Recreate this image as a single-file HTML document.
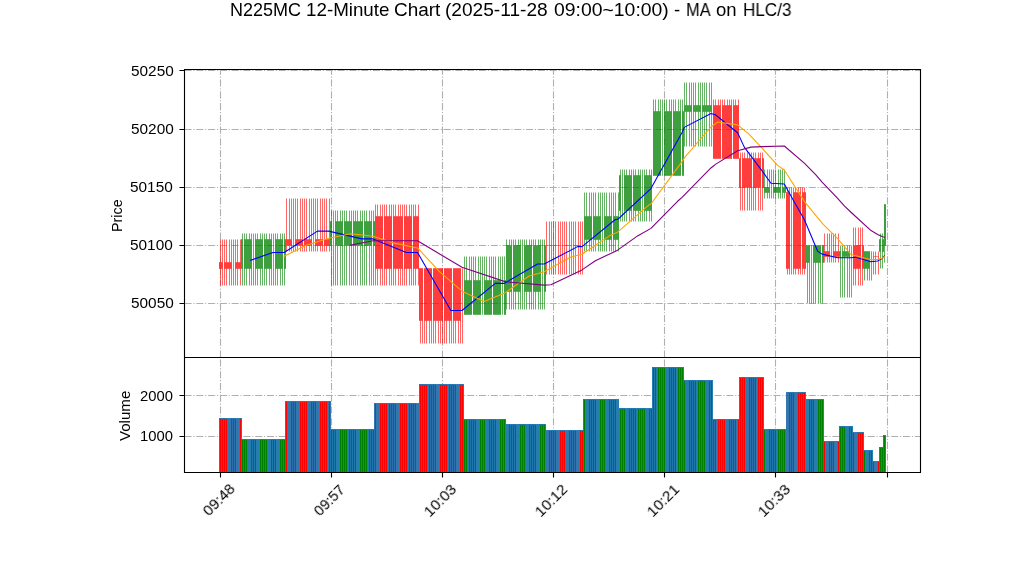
<!DOCTYPE html>
<html><head><meta charset="utf-8"><title>N225MC 12-Minute Chart</title>
<style>
html,body{margin:0;padding:0;background:#fff}
#fig{position:relative;width:1022px;height:575px;overflow:hidden;background:#fff;font-family:"Liberation Sans",sans-serif;color:#000}
.t{position:absolute;white-space:nowrap;line-height:1;transform-origin:0 0;will-change:transform}
</style></head><body>
<div id="fig">
<svg width="1022" height="575" viewBox="0 0 1022 575" style="position:absolute;left:0;top:0">
<defs><clipPath id="c1"><rect x="184" y="69" width="736" height="288"/></clipPath><clipPath id="c2"><rect x="184" y="357" width="736" height="115"/></clipPath></defs>
<rect width="1022" height="575" fill="#fff"/>
<path clip-path="url(#c1)" d="M184.5 303.5H920.5M184.5 245.5H920.5M184.5 187.5H920.5M184.5 129.5H920.5M184.5 70.5H920.5M220.5 357.5V69.5M331.5 357.5V69.5M442.5 357.5V69.5M553.5 357.5V69.5M664.5 357.5V69.5M775.5 357.5V69.5M887.5 357.5V69.5" fill="none" stroke="#b0b0b0" stroke-width="1.111" stroke-dasharray="7.111 1.778 1.111 1.778"/>
<path clip-path="url(#c2)" d="M184.5 436.5H920.5M184.5 395.5H920.5M220.5 472.5V357.5M331.5 472.5V357.5M442.5 472.5V357.5M553.5 472.5V357.5M664.5 472.5V357.5M775.5 472.5V357.5M887.5 472.5V357.5" fill="none" stroke="#b0b0b0" stroke-width="1.111" stroke-dasharray="7.111 1.778 1.111 1.778"/>
<g clip-path="url(#c1)" fill="none" stroke-width=".604">
<path d="M220.5 285.5V268.5M220.5 239.5V262.5M222.5 285.5V268.5M222.5 239.5V262.5M224.5 285.5V268.5M224.5 239.5V262.5M226.5 285.5V268.5M226.5 239.5V262.5M229.5 285.5V268.5M229.5 239.5V262.5M231.5 285.5V268.5M231.5 239.5V262.5M233.5 285.5V268.5M233.5 239.5V262.5M235.5 285.5V268.5M235.5 239.5V262.5M237.5 285.5V268.5M237.5 239.5V262.5M240.5 285.5V268.5M240.5 239.5V262.5M286.5 251.5V245.5M286.5 198.5V239.5M289.5 251.5V245.5M289.5 198.5V239.5M291.5 251.5V245.5M291.5 198.5V239.5M293.5 251.5V245.5M293.5 198.5V239.5M295.5 251.5V245.5M295.5 198.5V239.5M297.5 251.5V245.5M297.5 198.5V239.5M300.5 251.5V245.5M300.5 198.5V239.5M302.5 251.5V245.5M302.5 198.5V239.5M304.5 251.5V245.5M304.5 198.5V239.5M306.5 251.5V245.5M306.5 198.5V239.5M309.5 251.5V245.5M309.5 198.5V239.5M311.5 251.5V245.5M311.5 198.5V239.5M313.5 251.5V245.5M313.5 198.5V239.5M315.5 251.5V245.5M315.5 198.5V239.5M317.5 251.5V245.5M317.5 198.5V239.5M320.5 251.5V245.5M320.5 198.5V239.5M322.5 251.5V245.5M322.5 198.5V239.5M324.5 251.5V245.5M324.5 198.5V239.5M326.5 251.5V245.5M326.5 198.5V239.5M329.5 251.5V245.5M329.5 198.5V239.5M375.5 285.5V268.5M375.5 204.5V216.5M377.5 285.5V268.5M377.5 204.5V216.5M380.5 285.5V268.5M380.5 204.5V216.5M382.5 285.5V268.5M382.5 204.5V216.5M384.5 285.5V268.5M384.5 204.5V216.5M386.5 285.5V268.5M386.5 204.5V216.5M389.5 285.5V268.5M389.5 204.5V216.5M391.5 285.5V268.5M391.5 204.5V216.5M393.5 285.5V268.5M393.5 204.5V216.5M395.5 285.5V268.5M395.5 204.5V216.5M398.5 285.5V268.5M398.5 204.5V216.5M400.5 285.5V268.5M400.5 204.5V216.5M402.5 285.5V268.5M402.5 204.5V216.5M404.5 285.5V268.5M404.5 204.5V216.5M406.5 285.5V268.5M406.5 204.5V216.5M409.5 285.5V268.5M409.5 204.5V216.5M411.5 285.5V268.5M411.5 204.5V216.5M413.5 285.5V268.5M413.5 204.5V216.5M415.5 285.5V268.5M415.5 204.5V216.5M418.5 285.5V268.5M418.5 204.5V216.5M420.5 343.5V320.5M422.5 343.5V320.5M424.5 343.5V320.5M426.5 343.5V320.5M429.5 343.5V320.5M431.5 343.5V320.5M433.5 343.5V320.5M435.5 343.5V320.5M438.5 343.5V320.5M440.5 343.5V320.5M442.5 343.5V320.5M444.5 343.5V320.5M446.5 343.5V320.5M449.5 343.5V320.5M451.5 343.5V320.5M453.5 343.5V320.5M455.5 343.5V320.5M458.5 343.5V320.5M460.5 343.5V320.5M462.5 343.5V320.5M546.5 274.5V245.5M546.5 221.5V245.5M549.5 274.5V245.5M549.5 221.5V245.5M551.5 274.5V245.5M551.5 221.5V245.5M553.5 274.5V245.5M553.5 221.5V245.5M555.5 274.5V245.5M555.5 221.5V245.5M558.5 274.5V245.5M558.5 221.5V245.5M560.5 274.5V245.5M560.5 221.5V245.5M562.5 274.5V245.5M562.5 221.5V245.5M564.5 274.5V245.5M564.5 221.5V245.5M566.5 274.5V245.5M566.5 221.5V245.5M569.5 274.5V245.5M569.5 221.5V245.5M571.5 274.5V245.5M571.5 221.5V245.5M573.5 274.5V245.5M573.5 221.5V245.5M575.5 274.5V245.5M575.5 221.5V245.5M578.5 274.5V245.5M578.5 221.5V245.5M580.5 274.5V245.5M580.5 221.5V245.5M582.5 274.5V245.5M582.5 221.5V245.5M713.5 99.5V105.5M715.5 99.5V105.5M718.5 99.5V105.5M720.5 99.5V105.5M722.5 99.5V105.5M724.5 99.5V105.5M727.5 99.5V105.5M729.5 99.5V105.5M731.5 99.5V105.5M733.5 99.5V105.5M735.5 99.5V105.5M738.5 99.5V105.5M740.5 210.5V187.5M740.5 152.5V158.5M742.5 210.5V187.5M742.5 152.5V158.5M744.5 210.5V187.5M744.5 152.5V158.5M747.5 210.5V187.5M747.5 152.5V158.5M749.5 210.5V187.5M749.5 152.5V158.5M751.5 210.5V187.5M751.5 152.5V158.5M753.5 210.5V187.5M753.5 152.5V158.5M755.5 210.5V187.5M755.5 152.5V158.5M758.5 210.5V187.5M758.5 152.5V158.5M760.5 210.5V187.5M760.5 152.5V158.5M762.5 210.5V187.5M762.5 152.5V158.5M787.5 274.5V268.5M787.5 187.5V192.5M789.5 274.5V268.5M789.5 187.5V192.5M791.5 274.5V268.5M791.5 187.5V192.5M793.5 274.5V268.5M793.5 187.5V192.5M795.5 274.5V268.5M795.5 187.5V192.5M798.5 274.5V268.5M798.5 187.5V192.5M800.5 274.5V268.5M800.5 187.5V192.5M802.5 274.5V268.5M802.5 187.5V192.5M804.5 274.5V268.5M804.5 187.5V192.5M824.5 262.5V256.5M824.5 233.5V251.5M827.5 262.5V256.5M827.5 233.5V251.5M829.5 262.5V256.5M829.5 233.5V251.5M831.5 262.5V256.5M831.5 233.5V251.5M833.5 262.5V256.5M833.5 233.5V251.5M835.5 262.5V256.5M835.5 233.5V251.5M838.5 262.5V256.5M838.5 233.5V251.5M853.5 285.5V268.5M853.5 227.5V245.5M855.5 285.5V268.5M855.5 227.5V245.5M858.5 285.5V268.5M858.5 227.5V245.5M860.5 285.5V268.5M860.5 227.5V245.5M862.5 285.5V268.5M862.5 227.5V245.5M873.5 274.5V256.5M873.5 251.5V256.5M875.5 274.5V256.5M875.5 251.5V256.5M878.5 274.5V256.5M878.5 251.5V256.5" stroke="#ff0000"/>
<path d="M242.5 285.5V268.5M242.5 233.5V239.5M244.5 285.5V268.5M244.5 233.5V239.5M246.5 285.5V268.5M246.5 233.5V239.5M249.5 285.5V268.5M249.5 233.5V239.5M251.5 285.5V268.5M251.5 233.5V239.5M253.5 285.5V268.5M253.5 233.5V239.5M255.5 285.5V268.5M255.5 233.5V239.5M257.5 285.5V268.5M257.5 233.5V239.5M260.5 285.5V268.5M260.5 233.5V239.5M262.5 285.5V268.5M262.5 233.5V239.5M264.5 285.5V268.5M264.5 233.5V239.5M266.5 285.5V268.5M266.5 233.5V239.5M269.5 285.5V268.5M269.5 233.5V239.5M271.5 285.5V268.5M271.5 233.5V239.5M273.5 285.5V268.5M273.5 233.5V239.5M275.5 285.5V268.5M275.5 233.5V239.5M277.5 285.5V268.5M277.5 233.5V239.5M280.5 285.5V268.5M280.5 233.5V239.5M282.5 285.5V268.5M282.5 233.5V239.5M284.5 285.5V268.5M284.5 233.5V239.5M331.5 285.5V245.5M331.5 210.5V221.5M333.5 285.5V245.5M333.5 210.5V221.5M335.5 285.5V245.5M335.5 210.5V221.5M337.5 285.5V245.5M337.5 210.5V221.5M340.5 285.5V245.5M340.5 210.5V221.5M342.5 285.5V245.5M342.5 210.5V221.5M344.5 285.5V245.5M344.5 210.5V221.5M346.5 285.5V245.5M346.5 210.5V221.5M349.5 285.5V245.5M349.5 210.5V221.5M351.5 285.5V245.5M351.5 210.5V221.5M353.5 285.5V245.5M353.5 210.5V221.5M355.5 285.5V245.5M355.5 210.5V221.5M357.5 285.5V245.5M357.5 210.5V221.5M360.5 285.5V245.5M360.5 210.5V221.5M362.5 285.5V245.5M362.5 210.5V221.5M364.5 285.5V245.5M364.5 210.5V221.5M366.5 285.5V245.5M366.5 210.5V221.5M369.5 285.5V245.5M369.5 210.5V221.5M371.5 285.5V245.5M371.5 210.5V221.5M373.5 285.5V245.5M373.5 210.5V221.5M464.5 256.5V280.5M466.5 256.5V280.5M469.5 256.5V280.5M471.5 256.5V280.5M473.5 256.5V280.5M475.5 256.5V280.5M478.5 256.5V280.5M480.5 256.5V280.5M482.5 256.5V280.5M484.5 256.5V280.5M486.5 256.5V280.5M489.5 256.5V280.5M491.5 256.5V280.5M493.5 256.5V280.5M495.5 256.5V280.5M498.5 256.5V280.5M500.5 256.5V280.5M502.5 256.5V280.5M504.5 256.5V280.5M506.5 309.5V291.5M506.5 239.5V245.5M509.5 309.5V291.5M509.5 239.5V245.5M511.5 309.5V291.5M511.5 239.5V245.5M513.5 309.5V291.5M513.5 239.5V245.5M515.5 309.5V291.5M515.5 239.5V245.5M518.5 309.5V291.5M518.5 239.5V245.5M520.5 309.5V291.5M520.5 239.5V245.5M522.5 309.5V291.5M522.5 239.5V245.5M524.5 309.5V291.5M524.5 239.5V245.5M526.5 309.5V291.5M526.5 239.5V245.5M529.5 309.5V291.5M529.5 239.5V245.5M531.5 309.5V291.5M531.5 239.5V245.5M533.5 309.5V291.5M533.5 239.5V245.5M535.5 309.5V291.5M535.5 239.5V245.5M538.5 309.5V291.5M538.5 239.5V245.5M540.5 309.5V291.5M540.5 239.5V245.5M542.5 309.5V291.5M542.5 239.5V245.5M544.5 309.5V291.5M544.5 239.5V245.5M584.5 251.5V239.5M584.5 192.5V216.5M586.5 251.5V239.5M586.5 192.5V216.5M589.5 251.5V239.5M589.5 192.5V216.5M591.5 251.5V239.5M591.5 192.5V216.5M593.5 251.5V239.5M593.5 192.5V216.5M595.5 251.5V239.5M595.5 192.5V216.5M598.5 251.5V239.5M598.5 192.5V216.5M600.5 251.5V239.5M600.5 192.5V216.5M602.5 251.5V239.5M602.5 192.5V216.5M604.5 251.5V239.5M604.5 192.5V216.5M606.5 251.5V239.5M606.5 192.5V216.5M609.5 251.5V239.5M609.5 192.5V216.5M611.5 251.5V239.5M611.5 192.5V216.5M613.5 251.5V239.5M613.5 192.5V216.5M615.5 251.5V239.5M615.5 192.5V216.5M618.5 251.5V239.5M618.5 192.5V216.5M620.5 221.5V210.5M620.5 169.5V175.5M622.5 221.5V210.5M622.5 169.5V175.5M624.5 221.5V210.5M624.5 169.5V175.5M626.5 221.5V210.5M626.5 169.5V175.5M629.5 221.5V210.5M629.5 169.5V175.5M631.5 221.5V210.5M631.5 169.5V175.5M633.5 221.5V210.5M633.5 169.5V175.5M635.5 221.5V210.5M635.5 169.5V175.5M638.5 221.5V210.5M638.5 169.5V175.5M640.5 221.5V210.5M640.5 169.5V175.5M642.5 221.5V210.5M642.5 169.5V175.5M644.5 221.5V210.5M644.5 169.5V175.5M646.5 221.5V210.5M646.5 169.5V175.5M649.5 221.5V210.5M649.5 169.5V175.5M651.5 221.5V210.5M651.5 169.5V175.5M653.5 99.5V111.5M655.5 99.5V111.5M658.5 99.5V111.5M660.5 99.5V111.5M662.5 99.5V111.5M664.5 99.5V111.5M666.5 99.5V111.5M669.5 99.5V111.5M671.5 99.5V111.5M673.5 99.5V111.5M675.5 99.5V111.5M678.5 99.5V111.5M680.5 99.5V111.5M682.5 99.5V111.5M684.5 146.5V111.5M684.5 82.5V105.5M686.5 146.5V111.5M686.5 82.5V105.5M689.5 146.5V111.5M689.5 82.5V105.5M691.5 146.5V111.5M691.5 82.5V105.5M693.5 146.5V111.5M693.5 82.5V105.5M695.5 146.5V111.5M695.5 82.5V105.5M698.5 146.5V111.5M698.5 82.5V105.5M700.5 146.5V111.5M700.5 82.5V105.5M702.5 146.5V111.5M702.5 82.5V105.5M704.5 146.5V111.5M704.5 82.5V105.5M706.5 146.5V111.5M706.5 82.5V105.5M709.5 146.5V111.5M709.5 82.5V105.5M711.5 146.5V111.5M711.5 82.5V105.5M764.5 198.5V192.5M764.5 169.5V187.5M767.5 198.5V192.5M767.5 169.5V187.5M769.5 198.5V192.5M769.5 169.5V187.5M771.5 198.5V192.5M771.5 169.5V187.5M773.5 198.5V192.5M773.5 169.5V187.5M775.5 198.5V192.5M775.5 169.5V187.5M778.5 198.5V192.5M778.5 169.5V187.5M780.5 198.5V192.5M780.5 169.5V187.5M782.5 198.5V192.5M782.5 169.5V187.5M784.5 198.5V192.5M784.5 169.5V187.5M807.5 303.5V262.5M809.5 303.5V262.5M811.5 303.5V262.5M813.5 303.5V262.5M815.5 303.5V262.5M818.5 303.5V262.5M820.5 303.5V262.5M822.5 303.5V262.5M840.5 297.5V256.5M840.5 245.5V251.5M842.5 297.5V256.5M842.5 245.5V251.5M844.5 297.5V256.5M844.5 245.5V251.5M847.5 297.5V256.5M847.5 245.5V251.5M849.5 297.5V256.5M849.5 245.5V251.5M851.5 297.5V256.5M851.5 245.5V251.5M864.5 280.5V268.5M867.5 280.5V268.5M869.5 280.5V268.5M871.5 280.5V268.5M880.5 268.5V251.5M880.5 233.5V239.5M882.5 268.5V251.5M882.5 233.5V239.5M884.5 262.5V245.5" stroke="#008000"/>
</g>
<g clip-path="url(#c1)" fill-opacity=".8" stroke-width=".604" stroke-linejoin="round">
<path d="M219.5 262.5V268.5H220.5V262.5ZM221.5 262.5V268.5H222.5V262.5ZM224.5 262.5V268.5H225.5V262.5ZM226.5 262.5V268.5H227.5V262.5ZM228.5 262.5V268.5H229.5V262.5ZM230.5 262.5V268.5H231.5V262.5ZM233.5 262.25V268.75M235.5 262.5V268.5H236.5V262.5ZM237.5 262.5V268.5H238.5V262.5ZM239.5 262.5V268.5H240.5V262.5ZM286.5 239.5V245.5H287.5V239.5ZM288.5 239.5V245.5H289.5V239.5ZM290.5 239.5V245.5H291.5V239.5ZM293.5 239.25V245.75M295.5 239.5V245.5H296.5V239.5ZM297.5 239.5V245.5H298.5V239.5ZM299.5 239.5V245.5H300.5V239.5ZM301.5 239.5V245.5H302.5V239.5ZM304.5 239.5V245.5H305.5V239.5ZM306.5 239.5V245.5H307.5V239.5ZM308.5 239.5V245.5H309.5V239.5ZM310.5 239.5V245.5H311.5V239.5ZM313.5 239.25V245.75M315.5 239.5V245.5H316.5V239.5ZM317.5 239.5V245.5H318.5V239.5ZM319.5 239.5V245.5H320.5V239.5ZM321.5 239.5V245.5H322.5V239.5ZM324.5 239.5V245.5H325.5V239.5ZM326.5 239.5V245.5H327.5V239.5ZM328.5 239.5V245.5H329.5V239.5ZM375.5 216.5V268.5H376.5V216.5ZM377.5 216.5V268.5H378.5V216.5ZM379.5 216.5V268.5H380.5V216.5ZM381.5 216.5V268.5H382.5V216.5ZM384.5 216.5V268.5H385.5V216.5ZM386.5 216.5V268.5H387.5V216.5ZM388.5 216.5V268.5H389.5V216.5ZM390.5 216.5V268.5H391.5V216.5ZM393.5 216.5V268.5H394.5V216.5ZM395.5 216.5V268.5H396.5V216.5ZM397.5 216.5V268.5H398.5V216.5ZM399.5 216.5V268.5H400.5V216.5ZM401.5 216.5V268.5H402.5V216.5ZM404.5 216.5V268.5H405.5V216.5ZM406.5 216.5V268.5H407.5V216.5ZM408.5 216.5V268.5H409.5V216.5ZM410.5 216.5V268.5H411.5V216.5ZM413.5 216.5V268.5H414.5V216.5ZM415.5 216.5V268.5H416.5V216.5ZM417.5 216.5V268.5H418.5V216.5ZM419.5 268.5V320.5H420.5V268.5ZM421.5 268.5V320.5H422.5V268.5ZM424.5 268.5V320.5H425.5V268.5ZM426.5 268.5V320.5H427.5V268.5ZM428.5 268.5V320.5H429.5V268.5ZM430.5 268.5V320.5H431.5V268.5ZM433.5 268.5V320.5H434.5V268.5ZM435.5 268.5V320.5H436.5V268.5ZM437.5 268.5V320.5H438.5V268.5ZM439.5 268.5V320.5H440.5V268.5ZM441.5 268.5V320.5H442.5V268.5ZM444.5 268.5V320.5H445.5V268.5ZM446.5 268.5V320.5H447.5V268.5ZM448.5 268.5V320.5H449.5V268.5ZM450.5 268.5V320.5H451.5V268.5ZM453.5 268.5V320.5H454.5V268.5ZM455.5 268.5V320.5H456.5V268.5ZM457.5 268.5V320.5H458.5V268.5ZM459.5 268.5V320.5H460.5V268.5ZM462.5 268.25V320.75M546.25 245.5H547.75M548.25 245.5H549.75M550.25 245.5H551.75M553.25 245.5H554.75M555.25 245.5H556.75M557.25 245.5H558.75M559.25 245.5H560.75M562.2 245.5H562.8M564.25 245.5H565.75M566.25 245.5H567.75M568.25 245.5H569.75M570.25 245.5H571.75M573.25 245.5H574.75M575.25 245.5H576.75M577.25 245.5H578.75M579.25 245.5H580.75M582.2 245.5H582.8M713.5 105.5V158.5H714.5V105.5ZM715.5 105.5V158.5H716.5V105.5ZM717.5 105.5V158.5H718.5V105.5ZM719.5 105.5V158.5H720.5V105.5ZM722.5 105.5V158.5H723.5V105.5ZM724.5 105.5V158.5H725.5V105.5ZM726.5 105.5V158.5H727.5V105.5ZM728.5 105.5V158.5H729.5V105.5ZM730.5 105.5V158.5H731.5V105.5ZM733.5 105.5V158.5H734.5V105.5ZM735.5 105.5V158.5H736.5V105.5ZM737.5 105.5V158.5H738.5V105.5ZM739.5 158.5V187.5H740.5V158.5ZM742.5 158.5V187.5H743.5V158.5ZM744.5 158.5V187.5H745.5V158.5ZM746.5 158.5V187.5H747.5V158.5ZM748.5 158.5V187.5H749.5V158.5ZM750.5 158.5V187.5H751.5V158.5ZM753.5 158.5V187.5H754.5V158.5ZM755.5 158.5V187.5H756.5V158.5ZM757.5 158.5V187.5H758.5V158.5ZM759.5 158.5V187.5H760.5V158.5ZM762.5 158.5V187.5H763.5V158.5ZM786.5 192.5V268.5H787.5V192.5ZM788.5 192.5V268.5H789.5V192.5ZM791.5 192.25V268.75M793.5 192.5V268.5H794.5V192.5ZM795.5 192.5V268.5H796.5V192.5ZM797.5 192.5V268.5H798.5V192.5ZM799.5 192.5V268.5H800.5V192.5ZM802.5 192.5V268.5H803.5V192.5ZM804.5 192.5V268.5H805.5V192.5ZM824.5 251.5V256.5H825.5V251.5ZM826.5 251.5V256.5H827.5V251.5ZM828.5 251.5V256.5H829.5V251.5ZM831.5 251.25V256.75M833.5 251.5V256.5H834.5V251.5ZM835.5 251.5V256.5H836.5V251.5ZM837.5 251.5V256.5H838.5V251.5ZM853.5 245.5V268.5H854.5V245.5ZM855.5 245.5V268.5H856.5V245.5ZM857.5 245.5V268.5H858.5V245.5ZM859.5 245.5V268.5H860.5V245.5ZM862.5 245.5V268.5H863.5V245.5ZM873.25 256.5H874.75M875.25 256.5H876.75M877.25 256.5H878.75" fill="#ff0000" stroke="#ff0000"/>
<path d="M241.5 239.5V268.5H242.5V239.5ZM244.5 239.5V268.5H245.5V239.5ZM246.5 239.5V268.5H247.5V239.5ZM248.5 239.5V268.5H249.5V239.5ZM250.5 239.5V268.5H251.5V239.5ZM253.5 239.25V268.75M255.5 239.5V268.5H256.5V239.5ZM257.5 239.5V268.5H258.5V239.5ZM259.5 239.5V268.5H260.5V239.5ZM261.5 239.5V268.5H262.5V239.5ZM264.5 239.5V268.5H265.5V239.5ZM266.5 239.5V268.5H267.5V239.5ZM268.5 239.5V268.5H269.5V239.5ZM270.5 239.5V268.5H271.5V239.5ZM273.5 239.25V268.75M275.5 239.5V268.5H276.5V239.5ZM277.5 239.5V268.5H278.5V239.5ZM279.5 239.5V268.5H280.5V239.5ZM281.5 239.5V268.5H282.5V239.5ZM284.5 239.5V268.5H285.5V239.5ZM330.5 221.5V245.5H331.5V221.5ZM333.5 221.25V245.75M335.5 221.5V245.5H336.5V221.5ZM337.5 221.5V245.5H338.5V221.5ZM339.5 221.5V245.5H340.5V221.5ZM341.5 221.5V245.5H342.5V221.5ZM344.5 221.5V245.5H345.5V221.5ZM346.5 221.5V245.5H347.5V221.5ZM348.5 221.5V245.5H349.5V221.5ZM350.5 221.5V245.5H351.5V221.5ZM353.5 221.5V245.5H354.5V221.5ZM355.5 221.5V245.5H356.5V221.5ZM357.5 221.5V245.5H358.5V221.5ZM359.5 221.5V245.5H360.5V221.5ZM361.5 221.5V245.5H362.5V221.5ZM364.5 221.5V245.5H365.5V221.5ZM366.5 221.5V245.5H367.5V221.5ZM368.5 221.5V245.5H369.5V221.5ZM370.5 221.5V245.5H371.5V221.5ZM373.5 221.5V245.5H374.5V221.5ZM464.5 280.5V314.5H465.5V280.5ZM466.5 280.5V314.5H467.5V280.5ZM468.5 280.5V314.5H469.5V280.5ZM470.5 280.5V314.5H471.5V280.5ZM473.5 280.5V314.5H474.5V280.5ZM475.5 280.5V314.5H476.5V280.5ZM477.5 280.5V314.5H478.5V280.5ZM479.5 280.5V314.5H480.5V280.5ZM482.5 280.25V314.75M484.5 280.5V314.5H485.5V280.5ZM486.5 280.5V314.5H487.5V280.5ZM488.5 280.5V314.5H489.5V280.5ZM490.5 280.5V314.5H491.5V280.5ZM493.5 280.5V314.5H494.5V280.5ZM495.5 280.5V314.5H496.5V280.5ZM497.5 280.5V314.5H498.5V280.5ZM499.5 280.5V314.5H500.5V280.5ZM502.5 280.25V314.75M504.5 280.5V314.5H505.5V280.5ZM506.5 245.5V291.5H507.5V245.5ZM508.5 245.5V291.5H509.5V245.5ZM510.5 245.5V291.5H511.5V245.5ZM513.5 245.5V291.5H514.5V245.5ZM515.5 245.5V291.5H516.5V245.5ZM517.5 245.5V291.5H518.5V245.5ZM519.5 245.5V291.5H520.5V245.5ZM522.5 245.25V291.75M524.5 245.5V291.5H525.5V245.5ZM526.5 245.5V291.5H527.5V245.5ZM528.5 245.5V291.5H529.5V245.5ZM530.5 245.5V291.5H531.5V245.5ZM533.5 245.5V291.5H534.5V245.5ZM535.5 245.5V291.5H536.5V245.5ZM537.5 245.5V291.5H538.5V245.5ZM539.5 245.5V291.5H540.5V245.5ZM542.5 245.25V291.75M544.5 245.5V291.5H545.5V245.5ZM584.5 216.5V239.5H585.5V216.5ZM586.5 216.5V239.5H587.5V216.5ZM588.5 216.5V239.5H589.5V216.5ZM590.5 216.5V239.5H591.5V216.5ZM593.5 216.5V239.5H594.5V216.5ZM595.5 216.5V239.5H596.5V216.5ZM597.5 216.5V239.5H598.5V216.5ZM599.5 216.5V239.5H600.5V216.5ZM602.5 216.25V239.75M604.5 216.5V239.5H605.5V216.5ZM606.5 216.5V239.5H607.5V216.5ZM608.5 216.5V239.5H609.5V216.5ZM610.5 216.5V239.5H611.5V216.5ZM613.5 216.5V239.5H614.5V216.5ZM615.5 216.5V239.5H616.5V216.5ZM617.5 216.5V239.5H618.5V216.5ZM619.5 175.5V210.5H620.5V175.5ZM622.5 175.25V210.75M624.5 175.5V210.5H625.5V175.5ZM626.5 175.5V210.5H627.5V175.5ZM628.5 175.5V210.5H629.5V175.5ZM630.5 175.5V210.5H631.5V175.5ZM633.5 175.5V210.5H634.5V175.5ZM635.5 175.5V210.5H636.5V175.5ZM637.5 175.5V210.5H638.5V175.5ZM639.5 175.5V210.5H640.5V175.5ZM642.5 175.25V210.75M644.5 175.5V210.5H645.5V175.5ZM646.5 175.5V210.5H647.5V175.5ZM648.5 175.5V210.5H649.5V175.5ZM650.5 175.5V210.5H651.5V175.5ZM653.5 111.5V175.5H654.5V111.5ZM655.5 111.5V175.5H656.5V111.5ZM657.5 111.5V175.5H658.5V111.5ZM659.5 111.5V175.5H660.5V111.5ZM662.5 111.25V175.75M664.5 111.5V175.5H665.5V111.5ZM666.5 111.5V175.5H667.5V111.5ZM668.5 111.5V175.5H669.5V111.5ZM670.5 111.5V175.5H671.5V111.5ZM673.5 111.5V175.5H674.5V111.5ZM675.5 111.5V175.5H676.5V111.5ZM677.5 111.5V175.5H678.5V111.5ZM679.5 111.5V175.5H680.5V111.5ZM682.5 111.5V175.5H683.5V111.5ZM684.5 105.5V111.5H685.5V105.5ZM686.5 105.5V111.5H687.5V105.5ZM688.5 105.5V111.5H689.5V105.5ZM690.5 105.5V111.5H691.5V105.5ZM693.5 105.5V111.5H694.5V105.5ZM695.5 105.5V111.5H696.5V105.5ZM697.5 105.5V111.5H698.5V105.5ZM699.5 105.5V111.5H700.5V105.5ZM702.5 105.5V111.5H703.5V105.5ZM704.5 105.5V111.5H705.5V105.5ZM706.5 105.5V111.5H707.5V105.5ZM708.5 105.5V111.5H709.5V105.5ZM710.5 105.5V111.5H711.5V105.5ZM764.5 187.5V192.5H765.5V187.5ZM766.5 187.5V192.5H767.5V187.5ZM768.5 187.5V192.5H769.5V187.5ZM771.5 187.25V192.75M773.5 187.5V192.5H774.5V187.5ZM775.5 187.5V192.5H776.5V187.5ZM777.5 187.5V192.5H778.5V187.5ZM779.5 187.5V192.5H780.5V187.5ZM782.5 187.5V192.5H783.5V187.5ZM784.5 187.5V192.5H785.5V187.5ZM806.5 245.5V262.5H807.5V245.5ZM808.5 245.5V262.5H809.5V245.5ZM811.5 245.25V262.75M813.5 245.5V262.5H814.5V245.5ZM815.5 245.5V262.5H816.5V245.5ZM817.5 245.5V262.5H818.5V245.5ZM819.5 245.5V262.5H820.5V245.5ZM822.5 245.5V262.5H823.5V245.5ZM839.5 251.5V256.5H840.5V251.5ZM842.5 251.5V256.5H843.5V251.5ZM844.5 251.5V256.5H845.5V251.5ZM846.5 251.5V256.5H847.5V251.5ZM848.5 251.5V256.5H849.5V251.5ZM851.5 251.25V256.75M864.5 251.5V268.5H865.5V251.5ZM866.5 251.5V268.5H867.5V251.5ZM868.5 251.5V268.5H869.5V251.5ZM871.5 251.25V268.75M879.5 239.5V251.5H880.5V239.5ZM882.5 239.5V251.5H883.5V239.5ZM884.5 204.5V245.5H885.5V204.5Z" fill="#008000" stroke="#008000"/>
</g>
<g clip-path="url(#c1)" fill="none" stroke-width="1.099" stroke-linejoin="round" stroke-linecap="square">
<path d="M250.782 260.183L273.012 252.439L284.127 252.439L317.472 231.142L328.587 231.142L361.932 238.886L373.047 238.886L406.392 252.439L417.507 252.439L450.852 310.519L461.967 310.519L495.312 283.415L504.204 283.415L537.549 264.055L544.218 264.055L577.563 246.63L582.009 246.63L615.354 219.526L617.577 219.526L650.922 188.55L682.044 132.534L684.267 127.371L710.943 113.432L715.389 114.723L737.619 132.792L744.288 147.119L762.072 170.867L770.964 183.258L784.302 184.032L795.417 204.038L804.309 219.526L817.647 251.277L822.093 254.116L837.654 257.73L850.992 257.73L855.438 257.214L870.999 261.731L877.668 260.957L882.114 258.634L884.337 255.923" stroke="#0000ff"/>
<path d="M284.127 256.311L306.357 245.34L328.587 238.241L350.817 233.724L373.047 236.305L395.277 243.404L417.507 247.921L439.737 271.799L461.967 291.159L484.197 301.485L504.204 293.353L528.657 276.316L544.218 271.799L570.894 257.085L582.009 254.181L610.908 234.885L617.577 232.175L648.699 205.07L650.922 204.038L682.044 161.574L684.267 157.96L710.943 126.984L717.612 121.95L737.619 124.854L748.734 133.889L762.072 148.216L777.633 165.382L784.302 170.028L804.309 201.392L822.093 223.075L828.762 229.852L837.654 238.628L850.992 254.504L870.999 259.731L877.668 259.344L882.114 258.182L884.337 256.827" stroke="#ffa500"/>
<path d="M350.817 245.017L373.047 240.822L417.507 240.822L461.967 267.281L504.204 281.382L506.427 281.802L544.218 285.093L550.887 284.802L582.009 269.895L595.347 260.796L617.577 250.148L637.584 235.918L650.922 228.367L677.598 201.263L682.044 197.326L710.943 167.963L715.389 164.349L737.619 150.797L750.957 147.119L762.072 146.635L784.302 145.989L804.309 163.123L815.424 174.417L822.093 182.064L837.654 198.327L844.323 205.974L850.992 212.266L870.999 230.561L877.668 234.434L882.114 236.563L884.337 237.241" stroke="#800080"/>
</g>
<g clip-path="url(#c2)" stroke="#1f77b4" stroke-width=".903">
<rect x="219.5" y="418.5" width="2" height="58" fill="#f00"/>
<rect x="221.5" y="418.5" width="2" height="58" fill="#f00"/>
<rect x="223.5" y="418.5" width="2" height="58" fill="#f00"/>
<rect x="225.5" y="418.5" width="2" height="58" fill="#f00"/>
<rect x="228.5" y="418.5" width="1" height="58" fill="#f00"/>
<rect x="230.5" y="418.5" width="2" height="58" fill="#f00"/>
<rect x="232.5" y="418.5" width="2" height="58" fill="#f00"/>
<rect x="234.5" y="418.5" width="2" height="58" fill="#f00"/>
<rect x="237.5" y="418.5" width="1" height="58" fill="#f00"/>
<rect x="239.5" y="418.5" width="2" height="58" fill="#f00"/>
<rect x="241.5" y="439.5" width="2" height="37" fill="#008000"/>
<rect x="243.5" y="439.5" width="2" height="37" fill="#008000"/>
<rect x="245.5" y="439.5" width="2" height="37" fill="#008000"/>
<rect x="248.5" y="439.5" width="1" height="37" fill="#008000"/>
<rect x="250.5" y="439.5" width="2" height="37" fill="#008000"/>
<rect x="252.5" y="439.5" width="2" height="37" fill="#008000"/>
<rect x="254.5" y="439.5" width="2" height="37" fill="#008000"/>
<rect x="257.5" y="439.5" width="1" height="37" fill="#008000"/>
<rect x="259.5" y="439.5" width="2" height="37" fill="#008000"/>
<rect x="261.5" y="439.5" width="2" height="37" fill="#008000"/>
<rect x="263.5" y="439.5" width="2" height="37" fill="#008000"/>
<rect x="265.5" y="439.5" width="2" height="37" fill="#008000"/>
<rect x="268.5" y="439.5" width="1" height="37" fill="#008000"/>
<rect x="270.5" y="439.5" width="2" height="37" fill="#008000"/>
<rect x="272.5" y="439.5" width="2" height="37" fill="#008000"/>
<rect x="274.5" y="439.5" width="2" height="37" fill="#008000"/>
<rect x="277.5" y="439.5" width="1" height="37" fill="#008000"/>
<rect x="279.5" y="439.5" width="2" height="37" fill="#008000"/>
<rect x="281.5" y="439.5" width="2" height="37" fill="#008000"/>
<rect x="283.5" y="439.5" width="2" height="37" fill="#008000"/>
<rect x="285.5" y="401.5" width="2" height="75" fill="#f00"/>
<rect x="288.5" y="401.5" width="1" height="75" fill="#f00"/>
<rect x="290.5" y="401.5" width="2" height="75" fill="#f00"/>
<rect x="292.5" y="401.5" width="2" height="75" fill="#f00"/>
<rect x="294.5" y="401.5" width="2" height="75" fill="#f00"/>
<rect x="297.5" y="401.5" width="1" height="75" fill="#f00"/>
<rect x="299.5" y="401.5" width="2" height="75" fill="#f00"/>
<rect x="301.5" y="401.5" width="2" height="75" fill="#f00"/>
<rect x="303.5" y="401.5" width="2" height="75" fill="#f00"/>
<rect x="305.5" y="401.5" width="2" height="75" fill="#f00"/>
<rect x="308.5" y="401.5" width="1" height="75" fill="#f00"/>
<rect x="310.5" y="401.5" width="2" height="75" fill="#f00"/>
<rect x="312.5" y="401.5" width="2" height="75" fill="#f00"/>
<rect x="314.5" y="401.5" width="2" height="75" fill="#f00"/>
<rect x="317.5" y="401.5" width="1" height="75" fill="#f00"/>
<rect x="319.5" y="401.5" width="2" height="75" fill="#f00"/>
<rect x="321.5" y="401.5" width="2" height="75" fill="#f00"/>
<rect x="323.5" y="401.5" width="2" height="75" fill="#f00"/>
<rect x="325.5" y="401.5" width="2" height="75" fill="#f00"/>
<rect x="328.5" y="401.5" width="2" height="75" fill="#f00"/>
<rect x="330.5" y="429.5" width="2" height="47" fill="#008000"/>
<rect x="332.5" y="429.5" width="2" height="47" fill="#008000"/>
<rect x="334.5" y="429.5" width="2" height="47" fill="#008000"/>
<rect x="337.5" y="429.5" width="1" height="47" fill="#008000"/>
<rect x="339.5" y="429.5" width="2" height="47" fill="#008000"/>
<rect x="341.5" y="429.5" width="2" height="47" fill="#008000"/>
<rect x="343.5" y="429.5" width="2" height="47" fill="#008000"/>
<rect x="345.5" y="429.5" width="2" height="47" fill="#008000"/>
<rect x="348.5" y="429.5" width="2" height="47" fill="#008000"/>
<rect x="350.5" y="429.5" width="2" height="47" fill="#008000"/>
<rect x="352.5" y="429.5" width="2" height="47" fill="#008000"/>
<rect x="354.5" y="429.5" width="2" height="47" fill="#008000"/>
<rect x="357.5" y="429.5" width="1" height="47" fill="#008000"/>
<rect x="359.5" y="429.5" width="2" height="47" fill="#008000"/>
<rect x="361.5" y="429.5" width="2" height="47" fill="#008000"/>
<rect x="363.5" y="429.5" width="2" height="47" fill="#008000"/>
<rect x="365.5" y="429.5" width="2" height="47" fill="#008000"/>
<rect x="368.5" y="429.5" width="2" height="47" fill="#008000"/>
<rect x="370.5" y="429.5" width="2" height="47" fill="#008000"/>
<rect x="372.5" y="429.5" width="2" height="47" fill="#008000"/>
<rect x="374.5" y="403.5" width="2" height="73" fill="#f00"/>
<rect x="377.5" y="403.5" width="1" height="73" fill="#f00"/>
<rect x="379.5" y="403.5" width="2" height="73" fill="#f00"/>
<rect x="381.5" y="403.5" width="2" height="73" fill="#f00"/>
<rect x="383.5" y="403.5" width="2" height="73" fill="#f00"/>
<rect x="385.5" y="403.5" width="2" height="73" fill="#f00"/>
<rect x="388.5" y="403.5" width="2" height="73" fill="#f00"/>
<rect x="390.5" y="403.5" width="2" height="73" fill="#f00"/>
<rect x="392.5" y="403.5" width="2" height="73" fill="#f00"/>
<rect x="394.5" y="403.5" width="2" height="73" fill="#f00"/>
<rect x="397.5" y="403.5" width="1" height="73" fill="#f00"/>
<rect x="399.5" y="403.5" width="2" height="73" fill="#f00"/>
<rect x="401.5" y="403.5" width="2" height="73" fill="#f00"/>
<rect x="403.5" y="403.5" width="2" height="73" fill="#f00"/>
<rect x="405.5" y="403.5" width="2" height="73" fill="#f00"/>
<rect x="408.5" y="403.5" width="2" height="73" fill="#f00"/>
<rect x="410.5" y="403.5" width="2" height="73" fill="#f00"/>
<rect x="412.5" y="403.5" width="2" height="73" fill="#f00"/>
<rect x="414.5" y="403.5" width="2" height="73" fill="#f00"/>
<rect x="417.5" y="403.5" width="1" height="73" fill="#f00"/>
<rect x="419.5" y="384.5" width="2" height="92" fill="#f00"/>
<rect x="421.5" y="384.5" width="2" height="92" fill="#f00"/>
<rect x="423.5" y="384.5" width="2" height="92" fill="#f00"/>
<rect x="425.5" y="384.5" width="2" height="92" fill="#f00"/>
<rect x="428.5" y="384.5" width="2" height="92" fill="#f00"/>
<rect x="430.5" y="384.5" width="2" height="92" fill="#f00"/>
<rect x="432.5" y="384.5" width="2" height="92" fill="#f00"/>
<rect x="434.5" y="384.5" width="2" height="92" fill="#f00"/>
<rect x="437.5" y="384.5" width="1" height="92" fill="#f00"/>
<rect x="439.5" y="384.5" width="2" height="92" fill="#f00"/>
<rect x="441.5" y="384.5" width="2" height="92" fill="#f00"/>
<rect x="443.5" y="384.5" width="2" height="92" fill="#f00"/>
<rect x="445.5" y="384.5" width="2" height="92" fill="#f00"/>
<rect x="448.5" y="384.5" width="2" height="92" fill="#f00"/>
<rect x="450.5" y="384.5" width="2" height="92" fill="#f00"/>
<rect x="452.5" y="384.5" width="2" height="92" fill="#f00"/>
<rect x="454.5" y="384.5" width="2" height="92" fill="#f00"/>
<rect x="457.5" y="384.5" width="1" height="92" fill="#f00"/>
<rect x="459.5" y="384.5" width="2" height="92" fill="#f00"/>
<rect x="461.5" y="384.5" width="2" height="92" fill="#f00"/>
<rect x="463.5" y="419.5" width="2" height="57" fill="#008000"/>
<rect x="465.5" y="419.5" width="2" height="57" fill="#008000"/>
<rect x="468.5" y="419.5" width="2" height="57" fill="#008000"/>
<rect x="470.5" y="419.5" width="2" height="57" fill="#008000"/>
<rect x="472.5" y="419.5" width="2" height="57" fill="#008000"/>
<rect x="474.5" y="419.5" width="2" height="57" fill="#008000"/>
<rect x="477.5" y="419.5" width="1" height="57" fill="#008000"/>
<rect x="479.5" y="419.5" width="2" height="57" fill="#008000"/>
<rect x="481.5" y="419.5" width="2" height="57" fill="#008000"/>
<rect x="483.5" y="419.5" width="2" height="57" fill="#008000"/>
<rect x="486.5" y="419.5" width="1" height="57" fill="#008000"/>
<rect x="488.5" y="419.5" width="2" height="57" fill="#008000"/>
<rect x="490.5" y="419.5" width="2" height="57" fill="#008000"/>
<rect x="492.5" y="419.5" width="2" height="57" fill="#008000"/>
<rect x="494.5" y="419.5" width="2" height="57" fill="#008000"/>
<rect x="497.5" y="419.5" width="1" height="57" fill="#008000"/>
<rect x="499.5" y="419.5" width="2" height="57" fill="#008000"/>
<rect x="501.5" y="419.5" width="2" height="57" fill="#008000"/>
<rect x="503.5" y="419.5" width="2" height="57" fill="#008000"/>
<rect x="506.5" y="424.5" width="1" height="52" fill="#008000"/>
<rect x="508.5" y="424.5" width="2" height="52" fill="#008000"/>
<rect x="510.5" y="424.5" width="2" height="52" fill="#008000"/>
<rect x="512.5" y="424.5" width="2" height="52" fill="#008000"/>
<rect x="514.5" y="424.5" width="2" height="52" fill="#008000"/>
<rect x="517.5" y="424.5" width="1" height="52" fill="#008000"/>
<rect x="519.5" y="424.5" width="2" height="52" fill="#008000"/>
<rect x="521.5" y="424.5" width="2" height="52" fill="#008000"/>
<rect x="523.5" y="424.5" width="2" height="52" fill="#008000"/>
<rect x="526.5" y="424.5" width="1" height="52" fill="#008000"/>
<rect x="528.5" y="424.5" width="2" height="52" fill="#008000"/>
<rect x="530.5" y="424.5" width="2" height="52" fill="#008000"/>
<rect x="532.5" y="424.5" width="2" height="52" fill="#008000"/>
<rect x="534.5" y="424.5" width="2" height="52" fill="#008000"/>
<rect x="537.5" y="424.5" width="1" height="52" fill="#008000"/>
<rect x="539.5" y="424.5" width="2" height="52" fill="#008000"/>
<rect x="541.5" y="424.5" width="2" height="52" fill="#008000"/>
<rect x="543.5" y="424.5" width="2" height="52" fill="#008000"/>
<rect x="546.5" y="430.5" width="1" height="46" fill="#f00"/>
<rect x="548.5" y="430.5" width="2" height="46" fill="#f00"/>
<rect x="550.5" y="430.5" width="2" height="46" fill="#f00"/>
<rect x="552.5" y="430.5" width="2" height="46" fill="#f00"/>
<rect x="554.5" y="430.5" width="2" height="46" fill="#f00"/>
<rect x="557.5" y="430.5" width="1" height="46" fill="#f00"/>
<rect x="559.5" y="430.5" width="2" height="46" fill="#f00"/>
<rect x="561.5" y="430.5" width="2" height="46" fill="#f00"/>
<rect x="563.5" y="430.5" width="2" height="46" fill="#f00"/>
<rect x="566.5" y="430.5" width="1" height="46" fill="#f00"/>
<rect x="568.5" y="430.5" width="2" height="46" fill="#f00"/>
<rect x="570.5" y="430.5" width="2" height="46" fill="#f00"/>
<rect x="572.5" y="430.5" width="2" height="46" fill="#f00"/>
<rect x="574.5" y="430.5" width="2" height="46" fill="#f00"/>
<rect x="577.5" y="430.5" width="1" height="46" fill="#f00"/>
<rect x="579.5" y="430.5" width="2" height="46" fill="#f00"/>
<rect x="581.5" y="430.5" width="2" height="46" fill="#f00"/>
<rect x="583.5" y="399.5" width="2" height="77" fill="#008000"/>
<rect x="586.5" y="399.5" width="1" height="77" fill="#008000"/>
<rect x="588.5" y="399.5" width="2" height="77" fill="#008000"/>
<rect x="590.5" y="399.5" width="2" height="77" fill="#008000"/>
<rect x="592.5" y="399.5" width="2" height="77" fill="#008000"/>
<rect x="594.5" y="399.5" width="2" height="77" fill="#008000"/>
<rect x="597.5" y="399.5" width="1" height="77" fill="#008000"/>
<rect x="599.5" y="399.5" width="2" height="77" fill="#008000"/>
<rect x="601.5" y="399.5" width="2" height="77" fill="#008000"/>
<rect x="603.5" y="399.5" width="2" height="77" fill="#008000"/>
<rect x="606.5" y="399.5" width="1" height="77" fill="#008000"/>
<rect x="608.5" y="399.5" width="2" height="77" fill="#008000"/>
<rect x="610.5" y="399.5" width="2" height="77" fill="#008000"/>
<rect x="612.5" y="399.5" width="2" height="77" fill="#008000"/>
<rect x="614.5" y="399.5" width="2" height="77" fill="#008000"/>
<rect x="617.5" y="399.5" width="1" height="77" fill="#008000"/>
<rect x="619.5" y="408.5" width="2" height="68" fill="#008000"/>
<rect x="621.5" y="408.5" width="2" height="68" fill="#008000"/>
<rect x="623.5" y="408.5" width="2" height="68" fill="#008000"/>
<rect x="626.5" y="408.5" width="1" height="68" fill="#008000"/>
<rect x="628.5" y="408.5" width="2" height="68" fill="#008000"/>
<rect x="630.5" y="408.5" width="2" height="68" fill="#008000"/>
<rect x="632.5" y="408.5" width="2" height="68" fill="#008000"/>
<rect x="634.5" y="408.5" width="2" height="68" fill="#008000"/>
<rect x="637.5" y="408.5" width="2" height="68" fill="#008000"/>
<rect x="639.5" y="408.5" width="2" height="68" fill="#008000"/>
<rect x="641.5" y="408.5" width="2" height="68" fill="#008000"/>
<rect x="643.5" y="408.5" width="2" height="68" fill="#008000"/>
<rect x="646.5" y="408.5" width="1" height="68" fill="#008000"/>
<rect x="648.5" y="408.5" width="2" height="68" fill="#008000"/>
<rect x="650.5" y="408.5" width="2" height="68" fill="#008000"/>
<rect x="652.5" y="367.5" width="2" height="109" fill="#008000"/>
<rect x="654.5" y="367.5" width="2" height="109" fill="#008000"/>
<rect x="657.5" y="367.5" width="2" height="109" fill="#008000"/>
<rect x="659.5" y="367.5" width="2" height="109" fill="#008000"/>
<rect x="661.5" y="367.5" width="2" height="109" fill="#008000"/>
<rect x="663.5" y="367.5" width="2" height="109" fill="#008000"/>
<rect x="666.5" y="367.5" width="1" height="109" fill="#008000"/>
<rect x="668.5" y="367.5" width="2" height="109" fill="#008000"/>
<rect x="670.5" y="367.5" width="2" height="109" fill="#008000"/>
<rect x="672.5" y="367.5" width="2" height="109" fill="#008000"/>
<rect x="674.5" y="367.5" width="2" height="109" fill="#008000"/>
<rect x="677.5" y="367.5" width="2" height="109" fill="#008000"/>
<rect x="679.5" y="367.5" width="2" height="109" fill="#008000"/>
<rect x="681.5" y="367.5" width="2" height="109" fill="#008000"/>
<rect x="683.5" y="380.5" width="2" height="96" fill="#008000"/>
<rect x="686.5" y="380.5" width="1" height="96" fill="#008000"/>
<rect x="688.5" y="380.5" width="2" height="96" fill="#008000"/>
<rect x="690.5" y="380.5" width="2" height="96" fill="#008000"/>
<rect x="692.5" y="380.5" width="2" height="96" fill="#008000"/>
<rect x="694.5" y="380.5" width="2" height="96" fill="#008000"/>
<rect x="697.5" y="380.5" width="2" height="96" fill="#008000"/>
<rect x="699.5" y="380.5" width="2" height="96" fill="#008000"/>
<rect x="701.5" y="380.5" width="2" height="96" fill="#008000"/>
<rect x="703.5" y="380.5" width="2" height="96" fill="#008000"/>
<rect x="706.5" y="380.5" width="1" height="96" fill="#008000"/>
<rect x="708.5" y="380.5" width="2" height="96" fill="#008000"/>
<rect x="710.5" y="380.5" width="2" height="96" fill="#008000"/>
<rect x="712.5" y="419.5" width="2" height="57" fill="#f00"/>
<rect x="714.5" y="419.5" width="2" height="57" fill="#f00"/>
<rect x="717.5" y="419.5" width="2" height="57" fill="#f00"/>
<rect x="719.5" y="419.5" width="2" height="57" fill="#f00"/>
<rect x="721.5" y="419.5" width="2" height="57" fill="#f00"/>
<rect x="723.5" y="419.5" width="2" height="57" fill="#f00"/>
<rect x="726.5" y="419.5" width="1" height="57" fill="#f00"/>
<rect x="728.5" y="419.5" width="2" height="57" fill="#f00"/>
<rect x="730.5" y="419.5" width="2" height="57" fill="#f00"/>
<rect x="732.5" y="419.5" width="2" height="57" fill="#f00"/>
<rect x="734.5" y="419.5" width="2" height="57" fill="#f00"/>
<rect x="737.5" y="419.5" width="2" height="57" fill="#f00"/>
<rect x="739.5" y="377.5" width="2" height="99" fill="#f00"/>
<rect x="741.5" y="377.5" width="2" height="99" fill="#f00"/>
<rect x="743.5" y="377.5" width="2" height="99" fill="#f00"/>
<rect x="746.5" y="377.5" width="1" height="99" fill="#f00"/>
<rect x="748.5" y="377.5" width="2" height="99" fill="#f00"/>
<rect x="750.5" y="377.5" width="2" height="99" fill="#f00"/>
<rect x="752.5" y="377.5" width="2" height="99" fill="#f00"/>
<rect x="754.5" y="377.5" width="2" height="99" fill="#f00"/>
<rect x="757.5" y="377.5" width="2" height="99" fill="#f00"/>
<rect x="759.5" y="377.5" width="2" height="99" fill="#f00"/>
<rect x="761.5" y="377.5" width="2" height="99" fill="#f00"/>
<rect x="763.5" y="429.5" width="2" height="47" fill="#008000"/>
<rect x="766.5" y="429.5" width="1" height="47" fill="#008000"/>
<rect x="768.5" y="429.5" width="2" height="47" fill="#008000"/>
<rect x="770.5" y="429.5" width="2" height="47" fill="#008000"/>
<rect x="772.5" y="429.5" width="2" height="47" fill="#008000"/>
<rect x="774.5" y="429.5" width="2" height="47" fill="#008000"/>
<rect x="777.5" y="429.5" width="2" height="47" fill="#008000"/>
<rect x="779.5" y="429.5" width="2" height="47" fill="#008000"/>
<rect x="781.5" y="429.5" width="2" height="47" fill="#008000"/>
<rect x="783.5" y="429.5" width="2" height="47" fill="#008000"/>
<rect x="786.5" y="392.5" width="1" height="84" fill="#f00"/>
<rect x="788.5" y="392.5" width="2" height="84" fill="#f00"/>
<rect x="790.5" y="392.5" width="2" height="84" fill="#f00"/>
<rect x="792.5" y="392.5" width="2" height="84" fill="#f00"/>
<rect x="795.5" y="392.5" width="1" height="84" fill="#f00"/>
<rect x="797.5" y="392.5" width="2" height="84" fill="#f00"/>
<rect x="799.5" y="392.5" width="2" height="84" fill="#f00"/>
<rect x="801.5" y="392.5" width="2" height="84" fill="#f00"/>
<rect x="803.5" y="392.5" width="2" height="84" fill="#f00"/>
<rect x="806.5" y="399.5" width="1" height="77" fill="#008000"/>
<rect x="808.5" y="399.5" width="2" height="77" fill="#008000"/>
<rect x="810.5" y="399.5" width="2" height="77" fill="#008000"/>
<rect x="812.5" y="399.5" width="2" height="77" fill="#008000"/>
<rect x="815.5" y="399.5" width="1" height="77" fill="#008000"/>
<rect x="817.5" y="399.5" width="2" height="77" fill="#008000"/>
<rect x="819.5" y="399.5" width="2" height="77" fill="#008000"/>
<rect x="821.5" y="399.5" width="2" height="77" fill="#008000"/>
<rect x="823.5" y="441.5" width="2" height="35" fill="#f00"/>
<rect x="826.5" y="441.5" width="1" height="35" fill="#f00"/>
<rect x="828.5" y="441.5" width="2" height="35" fill="#f00"/>
<rect x="830.5" y="441.5" width="2" height="35" fill="#f00"/>
<rect x="832.5" y="441.5" width="2" height="35" fill="#f00"/>
<rect x="835.5" y="441.5" width="1" height="35" fill="#f00"/>
<rect x="837.5" y="441.5" width="2" height="35" fill="#f00"/>
<rect x="839.5" y="426.5" width="2" height="50" fill="#008000"/>
<rect x="841.5" y="426.5" width="2" height="50" fill="#008000"/>
<rect x="843.5" y="426.5" width="2" height="50" fill="#008000"/>
<rect x="846.5" y="426.5" width="1" height="50" fill="#008000"/>
<rect x="848.5" y="426.5" width="2" height="50" fill="#008000"/>
<rect x="850.5" y="426.5" width="2" height="50" fill="#008000"/>
<rect x="852.5" y="432.5" width="2" height="44" fill="#f00"/>
<rect x="855.5" y="432.5" width="1" height="44" fill="#f00"/>
<rect x="857.5" y="432.5" width="2" height="44" fill="#f00"/>
<rect x="859.5" y="432.5" width="2" height="44" fill="#f00"/>
<rect x="861.5" y="432.5" width="2" height="44" fill="#f00"/>
<rect x="863.5" y="450.5" width="2" height="26" fill="#008000"/>
<rect x="866.5" y="450.5" width="1" height="26" fill="#008000"/>
<rect x="868.5" y="450.5" width="2" height="26" fill="#008000"/>
<rect x="870.5" y="450.5" width="2" height="26" fill="#008000"/>
<rect x="872.5" y="461.5" width="2" height="15" fill="#f00"/>
<rect x="875.5" y="461.5" width="1" height="15" fill="#f00"/>
<rect x="877.5" y="461.5" width="2" height="15" fill="#f00"/>
<rect x="879.5" y="447.5" width="2" height="29" fill="#008000"/>
<rect x="881.5" y="447.5" width="2" height="29" fill="#008000"/>
<rect x="883.5" y="435.5" width="2" height="41" fill="#008000"/>
</g>
<path d="M184.5 69.5V472.5M920.5 69.5V472.5M184.5 69.5H920.5M184.5 357.5H920.5M184.5 472.5H920.5" fill="none" stroke="#000" stroke-width="1.111" stroke-linecap="square"/>
<path d="M184.5 303.5h-5M184.5 245.5h-5M184.5 187.5h-5M184.5 129.5h-5M184.5 70.5h-5M184.5 436.5h-5M184.5 395.5h-5M220.5 472.5v5M331.5 472.5v5M442.5 472.5v5M553.5 472.5v5M664.5 472.5v5M775.5 472.5v5M887.5 472.5v5" fill="none" stroke="#000" stroke-width="1.111"/>
</svg>
<div class="t" id="tw0" style="left:230px;top:1.5px;font-size:17.66px;transform:scaleX(1.02);">N225MC</div>
<div class="t" id="tw1" style="left:305.5px;top:1.5px;font-size:17.66px;transform:scaleX(1.063);">12-Minute</div>
<div class="t" id="tw2" style="left:393.5px;top:1.5px;font-size:17.66px;transform:scaleX(1.074);">Chart</div>
<div class="t" id="tw3" style="left:444.5px;top:1.5px;font-size:17.66px;transform:scaleX(1.082);">(2025-11-28</div>
<div class="t" id="tw4" style="left:553.5px;top:1.5px;font-size:17.66px;transform:scaleX(1.098);">09:00~10:00)</div>
<div class="t" id="tw5" style="left:674px;top:1.5px;font-size:17.66px;transform:scaleX(1.05);">-</div>
<div class="t" id="tw6" style="left:685.5px;top:1.5px;font-size:17.66px;transform:scaleX(.933);">MA</div>
<div class="t" id="tw7" style="left:716px;top:1.5px;font-size:17.66px;transform:scaleX(1.05);">on</div>
<div class="t" id="tw8" style="left:743px;top:1.5px;font-size:17.66px;transform:scaleX(.968);">HLC/3</div>
<div class="t" id="p50250" style="left:131px;top:65px;font-size:13.89px;transform:scaleX(1.108);">50250</div>
<div class="t" id="p50200" style="left:131px;top:123px;font-size:13.89px;transform:scaleX(1.108);">50200</div>
<div class="t" id="p50150" style="left:130px;top:181px;font-size:13.89px;transform:scaleX(1.108);">50150</div>
<div class="t" id="p50100" style="left:130px;top:239px;font-size:13.89px;transform:scaleX(1.108);">50100</div>
<div class="t" id="p50050" style="left:131px;top:297px;font-size:13.89px;transform:scaleX(1.108);">50050</div>
<div class="t" id="v2000" style="left:140px;top:390px;font-size:13.89px;transform:scaleX(1.065);">2000</div>
<div class="t" id="v1000" style="left:140px;top:430px;font-size:13.89px;transform:scaleX(1.067);">1000</div>
<div class="t" id="price" style="left:111px;top:231.5px;font-size:13.89px;transform:rotate(-90deg) scaleX(1.033);">Price</div>
<div class="t" id="volume" style="left:119px;top:441px;font-size:13.89px;transform:rotate(-90deg) scaleX(1.087);">Volume</div>
<div class="t" id="x0" style="left:201px;top:509px;font-size:13.89px;transform:rotate(-45deg) scaleX(1.106);">09:48</div>
<div class="t" id="x50" style="left:311.5px;top:509px;font-size:13.89px;transform:rotate(-45deg) scaleX(1.053);">09:57</div>
<div class="t" id="x100" style="left:422px;top:509.5px;font-size:13.89px;transform:rotate(-45deg) scaleX(1.123);">10:03</div>
<div class="t" id="x150" style="left:533px;top:509.5px;font-size:13.89px;transform:rotate(-45deg) scaleX(1.121);">10:12</div>
<div class="t" id="x200" style="left:644.5px;top:510px;font-size:13.89px;transform:rotate(-45deg) scaleX(1.121);">10:21</div>
<div class="t" id="x250" style="left:756px;top:509.5px;font-size:13.89px;transform:rotate(-45deg) scaleX(1.123);">10:33</div>
</div>
</body></html>
